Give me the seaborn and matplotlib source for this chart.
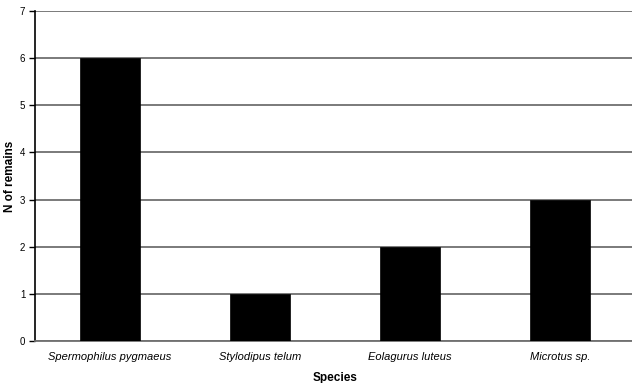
import matplotlib
matplotlib.use("Agg")
import matplotlib.pyplot as plt
import seaborn as sns
import pandas as pd

species = ["Spermophilus pygmaeus", "Stylodipus telum", "Eolagurus luteus", "Microtus sp."]
n_remains = [6, 1, 2, 3]

df = pd.DataFrame({"species": species, "n": n_remains})

sns.set_theme(style="white", rc={"text.color": "black", "axes.labelcolor": "black",
                                 "xtick.color": "black", "ytick.color": "black"})
plt.rcParams["font.family"] = ["Liberation Sans", "DejaVu Sans"]

fig = plt.figure(figsize=(6.32, 3.83), dpi=100)
ax = fig.add_axes([35 / 632, 1 - 341 / 383, 600 / 632, 330 / 383])

sns.barplot(data=df, x="species", y="n", color="black", width=0.4,
            edgecolor="black", linewidth=0.5, saturation=1, ax=ax, zorder=3)

ax.set_ylim(0, 7)
ax.set_xlim(-0.5, 3.5)
ax.set_yticks(range(0, 8))
ax.yaxis.grid(True, color="#707070", linewidth=1.3, zorder=0)
ax.set_axisbelow(True)

for s in ["top", "right"]:
    ax.spines[s].set_visible(False)
ax.spines["left"].set_color("black")
ax.spines["left"].set_linewidth(1.2)
ax.spines["bottom"].set_color("#707070")
ax.spines["bottom"].set_linewidth(1.3)

ax.set_xticks(range(4))
ax.set_xticklabels(species, fontstyle="italic", fontsize=8)
ax.tick_params(axis="x", length=0, pad=8)
ax.set_xticks([0.5, 1.5, 2.5], minor=True)
ax.tick_params(axis="x", which="minor", length=4, width=1, color="black", direction="inout")
ax.tick_params(axis="y", labelsize=7, length=4, width=1, color="black", pad=3, left=True)

ax.set_xlabel("Species", fontweight="bold", fontsize=8.5, labelpad=7)
ax.set_ylabel("N of remains", fontweight="bold", fontsize=8.5, va="center")
ax.yaxis.set_label_coords(-24.5 / 600, 0.5)

fig.savefig("out.png", dpi=100)
